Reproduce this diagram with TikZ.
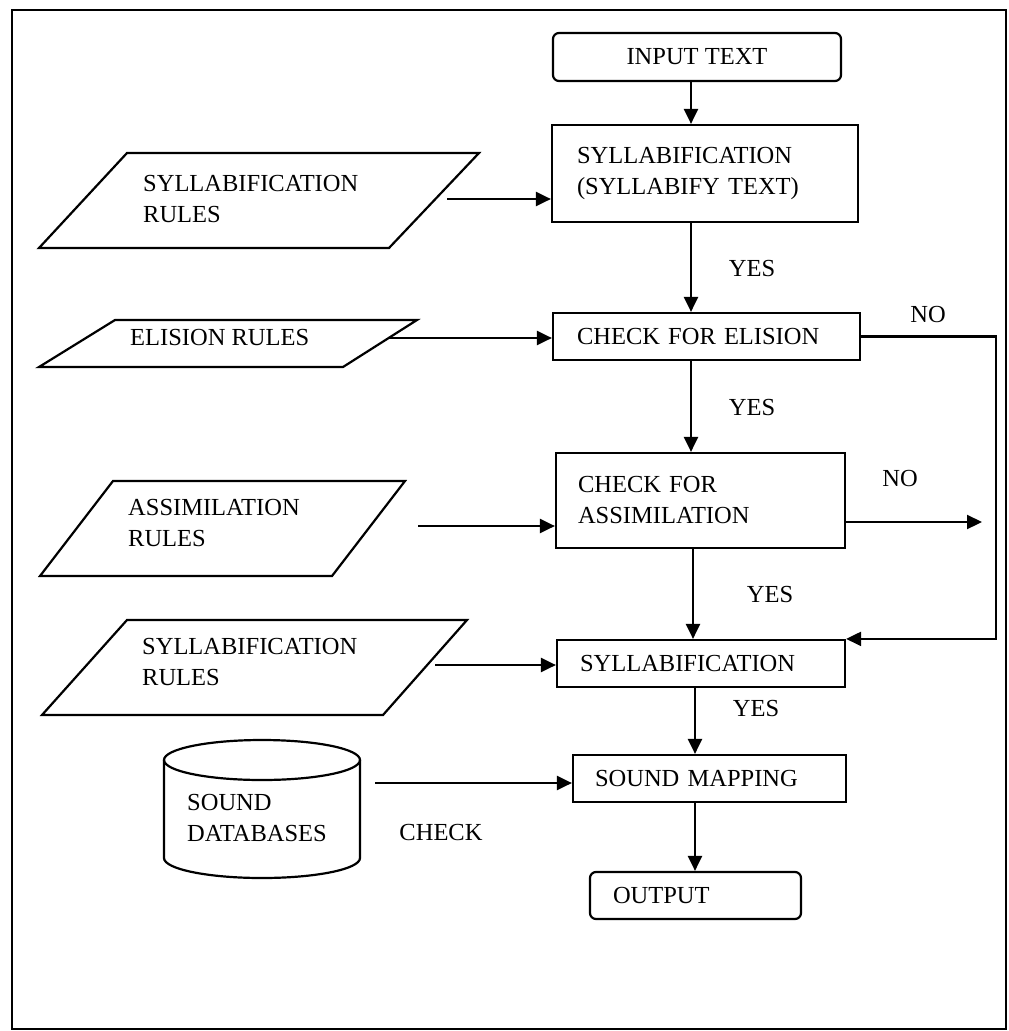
\documentclass[tikz,border=0pt]{standalone}
\usepackage{fontspec}
\setmainfont{Liberation Serif}
\usetikzlibrary{arrows.meta,calc}
\begin{document}
\begin{tikzpicture}[x=1pt,y=1pt,
  font=\fontsize{24.5}{31}\selectfont,
  box/.style={draw, line width=2.2pt, align=left, inner ysep=0pt},
  arr/.style={line width=2.2pt, -{Triangle[length=15pt,width=14pt]}},
  lbl/.style={inner sep=0pt},
  para/.style={draw, line width=2.2pt, line join=miter}
]
\useasboundingbox (0,0) rectangle (1009,-1031);
\draw[line width=2.4pt] (12,-10) rectangle (1006,-1029);

% main column boxes
\node[box, rounded corners=6pt, align=center, minimum width=288pt, minimum height=48pt] (in) at (697,-57) {INPUT TEXT};
\node[box, minimum width=306pt, minimum height=97pt, inner xsep=25pt, text width=256pt] (s1) at (705,-173.5) {SYLLABIFICATION\\(SYLLABIFY TEXT)};
\node[box, minimum width=307pt, minimum height=47pt, inner xsep=24pt, text width=259pt] (el) at (706.5,-336.5) {CHECK FOR ELISION};
\node[box, minimum width=289pt, minimum height=95pt, inner xsep=22pt, text width=245pt] (as) at (700.5,-500.5) {CHECK FOR\\ASSIMILATION};
\node[box, minimum width=288pt, minimum height=47pt, inner xsep=23pt, text width=242pt] (sy) at (701,-663.5) {SYLLABIFICATION};
\node[box, minimum width=273pt, minimum height=47pt, inner xsep=22pt, text width=229pt] (sm) at (709.5,-778.5) {SOUND MAPPING};
\node[box, rounded corners=6pt, minimum width=211pt, minimum height=47pt, inner xsep=23pt, text width=165pt] (out) at (695.5,-895.5) {OUTPUT};

% vertical flow
\coordinate (col) at (691,0);
\draw[arr] (in.south -| col) -- (s1.north -| col);
\draw[arr] (s1.south -| col) -- (el.north -| col);
\draw[arr] (el.south -| col) -- (as.north -| col);
\coordinate (col2) at (693,0);
\draw[arr] (as.south -| col2) -- (sy.north -| col2);
\coordinate (col3) at (695,0);
\draw[arr] (sy.south -| col3) -- (sm.north -| col3);
\draw[arr] (sm.south -| col3) -- (out.north -| col3);

% parallelograms
\draw[para] (127,-153) -- (479,-153) -- (389,-248) -- (39,-248) -- cycle;
\node[lbl, anchor=west, align=left] (p1t) at (143,-199) {SYLLABIFICATION\\RULES};
\coordinate (p1o) at (447,-199);
\draw[arr] (p1o) -- (p1o -| s1.west);

\draw[para] (115,-320) -- (417,-320) -- (343,-367) -- (39,-367) -- cycle;
\node[lbl, anchor=west] (p2t) at (130,-338) {ELISION RULES};
\coordinate (p2o) at (388,-338);
\draw[arr] (p2o) -- (p2o -| el.west);

\draw[para] (113,-481) -- (405,-481) -- (332,-576) -- (40,-576) -- cycle;
\node[lbl, anchor=west, align=left] (p3t) at (128,-523) {ASSIMILATION\\RULES};
\coordinate (p3o) at (418,-526);
\draw[arr] (p3o) -- (p3o -| as.west);

\draw[para] (127,-620) -- (467,-620) -- (383,-715) -- (42,-715) -- cycle;
\node[lbl, anchor=west, align=left] (p4t) at (142,-662) {SYLLABIFICATION\\RULES};
\coordinate (p4o) at (435,-665);
\draw[arr] (p4o) -- (p4o -| sy.west);

% database cylinder
\draw[line width=2.2pt] (262,-760) ellipse [x radius=98, y radius=20];
\draw[line width=2.2pt] (164,-760) -- (164,-858) arc[start angle=180,end angle=360,x radius=98,y radius=20] -- (360,-760);
\node[lbl, anchor=west, align=left] (db) at (187,-818) {SOUND\\DATABASES};
\node[lbl] (chk) at (441,-832) {CHECK};
\coordinate (dbo) at (375,-783);
\draw[arr] (dbo) -- (dbo -| sm.west);

% labels
\node[lbl] (y1) at (752,-269) {YES};
\node[lbl] (y2) at (752,-408) {YES};
\node[lbl] (y3) at (770,-595) {YES};
\node[lbl] (y4) at (756,-708) {YES};
\node[lbl] (n1) at (928,-315) {NO};
\node[lbl] (n2) at (900,-479) {NO};

% NO branches
\coordinate (rt) at (996,0);
\draw[arr, line join=miter] (el.east) -- (el.east -| rt) -- (rt |- sy.north east) -- (sy.north east);
\coordinate (asno) at (982,-522);
\draw[arr] (as.east |- asno) -- (asno);
\end{tikzpicture}
\end{document}
